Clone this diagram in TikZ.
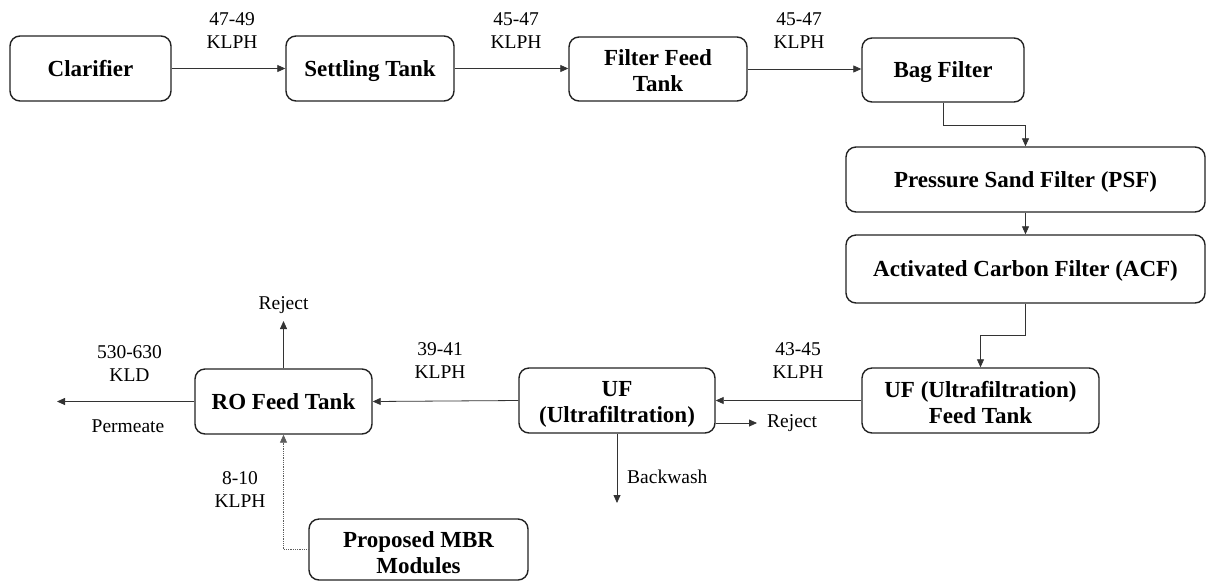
\documentclass[tikz,border=0pt]{standalone}
\usepackage{fontspec}
\setmainfont{Liberation Serif}
\usetikzlibrary{arrows.meta,calc}
\definecolor{boxline}{HTML}{222222}
\definecolor{conn}{HTML}{333333}
\tikzset{
  proc/.style={draw=boxline, line width=1.4pt, rounded corners=10pt, align=center,
    font=\fontsize{23}{26}\selectfont\bfseries, inner sep=0pt},
  oneline/.style={text height=15.2pt, text depth=0pt},
  lbl/.style={align=center, font=\fontsize{19.5}{23}\selectfont, inner sep=0pt},
  arr/.style={draw=conn, line width=0.8pt, -{Triangle[length=8pt,width=7pt]}},
  dotarr/.style={draw=conn!80, line width=0.8pt, densely dotted, -{Triangle[length=8pt,width=7pt]}}
}
\begin{document}
\begin{tikzpicture}[x=1pt,y=-1pt]
\useasboundingbox (0,0) rectangle (1206,582);
% boxes
\node[proc, oneline, minimum width=161pt, minimum height=65pt] (clar) at (90.5,68.5) {Clarifier};
\node[proc, oneline, minimum width=168pt, minimum height=65pt] (settle) at (370,68.5) {Settling Tank};
\node[proc, minimum width=178pt, minimum height=64pt] (filt) at (658,69) {\rule{0pt}{20pt}Filter Feed\\Tank};
\node[proc, oneline, minimum width=162pt, minimum height=64pt] (bag) at (943,70) {Bag Filter};
\node[proc, oneline, minimum width=359pt, minimum height=65pt] (psf) at (1025.5,179.5) {Pressure Sand Filter (PSF)};
\node[proc, oneline, minimum width=359pt, minimum height=68pt] (acf) at (1025.5,269) {Activated Carbon Filter (ACF)};
\node[proc, minimum width=237pt, minimum height=65pt] (uffeed) at (980.5,400.5) {\rule{0pt}{20pt}UF (Ultrafiltration)\\Feed Tank};
\node[proc, minimum width=196pt, minimum height=65pt] (uf) at (617,400.5) {\rule{0pt}{22pt}UF\\(Ultrafiltration)};
\node[proc, oneline, minimum width=177pt, minimum height=65pt] (ro) at (283.5,401.5) {RO Feed Tank};
\node[proc, minimum width=219pt, minimum height=61pt] (mbr) at (418.5,549.5) {\rule{0pt}{22pt}Proposed MBR\\Modules};
% free ends
\coordinate (ufrej) at (757,423);
\coordinate (ufback) at (617,503);
\coordinate (rorej) at (283.5,321);
\coordinate (roperm) at (57,401.5);
% connectors
\draw[arr] (clar.east) -- (settle.west);
\draw[arr] (settle.east) -- (settle.east -| filt.west);
\draw[arr] (filt.east) -- (filt.east -| bag.west);
\draw[arr] (bag.south) -- ++(0,23) -| (psf.north);
\draw[arr] (psf.south) -- (acf.north);
\draw[arr] (acf.south) -- ++(0,32) -| (uffeed.north);
\draw[arr] (uffeed.west) -- (uffeed.west -| uf.east);
\draw[arr] (uf.east |- ufrej) -- (ufrej);
\draw[arr] (uf.south) -- (ufback);
\draw[arr] (uf.west) -- (ro.east);
\draw[arr] (ro.north) -- (rorej);
\draw[arr] (ro.west) -- (roperm);
\draw[dotarr] (mbr.west) -| (ro.south);
% labels
\node[lbl] (l1) at (232,31) {47-49\\KLPH};
\node[lbl] (l2) at (516,31) {45-47\\KLPH};
\node[lbl] (l3) at (799,31) {45-47\\KLPH};
\node[lbl] (l4) at (798,361) {43-45\\KLPH};
\node[lbl] (l5) at (440,361) {39-41\\KLPH};
\node[lbl] (l6) at (129.5,364) {530-630\\KLD};
\node[lbl] (l7) at (128,426) {Permeate};
\node[lbl] (l8) at (283.5,305) {Reject};
\node[lbl, anchor=west] (l9) at (767,423) {Reject};
\node[lbl, anchor=west] (l10) at (627,477) {Backwash};
\node[lbl] (l11) at (240,490) {8-10\\KLPH};
\end{tikzpicture}
\end{document}
